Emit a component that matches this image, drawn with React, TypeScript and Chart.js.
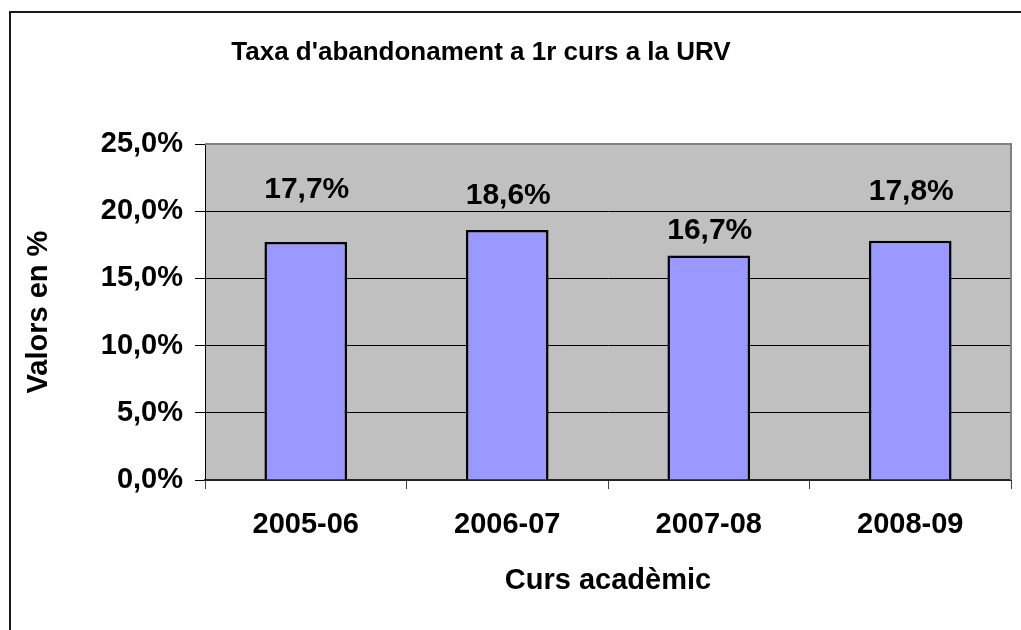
import React, { useEffect, useRef } from "react";
import { Chart, registerables } from "chart.js";

Chart.register(...registerables);

const TITLE = "Taxa d'abandonament a 1r curs a la URV";
const X_TITLE = "Curs acadèmic";
const Y_TITLE = "Valors en %";
const categories = ["2005-06", "2006-07", "2007-08", "2008-09"];
const values = [17.7, 18.6, 16.7, 17.8];
// value-axis level (in %) of each data label's baseline, as placed in the original
const labelLevels = [21.0, 20.5, 17.9, 20.8];
const yMin = 0;
const yMax = 25;
const yStep = 5;

const FONT = "'Liberation Sans', Arial, sans-serif";

const fmt = (v: number) => v.toFixed(1).replace(".", ",") + "%";

const framePlugin = {
  id: "framePlugin",
  beforeDraw(chart: any) {
    const { ctx, chartArea } = chart;
    ctx.save();
    ctx.fillStyle = "#ffffff";
    ctx.fillRect(0, 0, chart.width, chart.height);
    ctx.fillStyle = "#C0C0C0";
    ctx.fillRect(chartArea.left, chartArea.top, chartArea.right - chartArea.left, chartArea.bottom - chartArea.top);
    ctx.restore();
  },
  afterDraw(chart: any) {
    const { ctx, chartArea } = chart;
    ctx.save();
    // plot area border (top & right) in gray
    ctx.strokeStyle = "#808080";
    ctx.lineWidth = 2;
    ctx.beginPath();
    ctx.moveTo(chartArea.left, chartArea.top);
    ctx.lineTo(chartArea.right, chartArea.top);
    ctx.lineTo(chartArea.right, chartArea.bottom);
    ctx.stroke();
    // outer chart frame
    ctx.strokeStyle = "#1a1a1a";
    ctx.lineWidth = 2;
    ctx.strokeRect(10, 12, 1100, 700);
    // title
    ctx.fillStyle = "#000";
    ctx.font = `bold 26px ${FONT}`;
    ctx.textAlign = "center";
    ctx.textBaseline = "alphabetic";
    ctx.fillText(TITLE, 481, 60);
    ctx.restore();
  },
};

const barLabelPlugin = {
  id: "barLabelPlugin",
  afterDatasetsDraw(chart: any) {
    const { ctx } = chart;
    const meta = chart.getDatasetMeta(0);
    const yScale = chart.scales.y;
    ctx.save();
    ctx.fillStyle = "#000";
    ctx.font = `bold 30px ${FONT}`;
    ctx.textAlign = "center";
    ctx.textBaseline = "alphabetic";
    meta.data.forEach((el: any, i: number) => {
      ctx.fillText(fmt(values[i]), el.x + 1, yScale.getPixelForValue(labelLevels[i]));
    });
    ctx.restore();
  },
};

export default function App() {
  const ref = useRef<HTMLCanvasElement | null>(null);

  useEffect(() => {
    if (!ref.current) return;
    const chart = new Chart(ref.current, {
      type: "bar",
      data: {
        labels: categories,
        datasets: [
          {
            data: values,
            backgroundColor: "#9999FF",
            borderColor: "#000000",
            borderWidth: 2.5,
            categoryPercentage: 1,
            barPercentage: 0.41,
          },
        ],
      },
      options: {
        responsive: false,
        animation: false,
        devicePixelRatio: 1,
        layout: { padding: { top: 144, left: 0, right: 10, bottom: 0 } },
        plugins: {
          legend: { display: false },
          title: { display: false },
          tooltip: { enabled: false },
        },
        scales: {
          x: {
            afterFit: (s: any) => {
              s.height = 150;
            },
            grid: {
              display: true,
              drawOnChartArea: false,
              drawTicks: true,
              tickLength: 9,
              color: "#404040",
              offset: true,
            },
            border: { display: true, color: "#222", width: 2 },
            ticks: {
              color: "#000",
              padding: 19,
              font: { family: FONT, size: 29, weight: "bold" },
            },
            title: {
              display: true,
              text: X_TITLE,
              color: "#000",
              font: { family: FONT, size: 29, weight: "bold" },
              padding: { top: 0, bottom: 31.6 },
            },
          },
          y: {
            min: yMin,
            max: yMax,
            afterFit: (s: any) => {
              s.width = 205;
            },
            grid: {
              color: (c: any) => (c.tick && c.tick.value === yMax ? "#808080" : "#000"),
              tickColor: "#000",
              tickLength: 10,
              lineWidth: 1,
            },
            border: { display: true, color: "#000", width: 1 },
            ticks: {
              stepSize: yStep,
              color: "#000",
              padding: 12,
              font: { family: FONT, size: 29, weight: "bold" },
              callback: (v: any) => fmt(Number(v)),
            },
            title: {
              display: true,
              text: Y_TITLE,
              color: "#000",
              font: { family: FONT, size: 29, weight: "bold" },
              padding: { top: 21.5, bottom: 0 },
            },
          },
        },
      },
      plugins: [framePlugin, barLabelPlugin],
    });
    return () => chart.destroy();
  }, []);

  return (
    <div style={{ position: "absolute", left: 0, top: 0, width: 1021, height: 630, overflow: "hidden", background: "#fff" }}>
      <canvas ref={ref} width={1021} height={630} style={{ display: "block", width: 1021, height: 630 }} />
    </div>
  );
}
